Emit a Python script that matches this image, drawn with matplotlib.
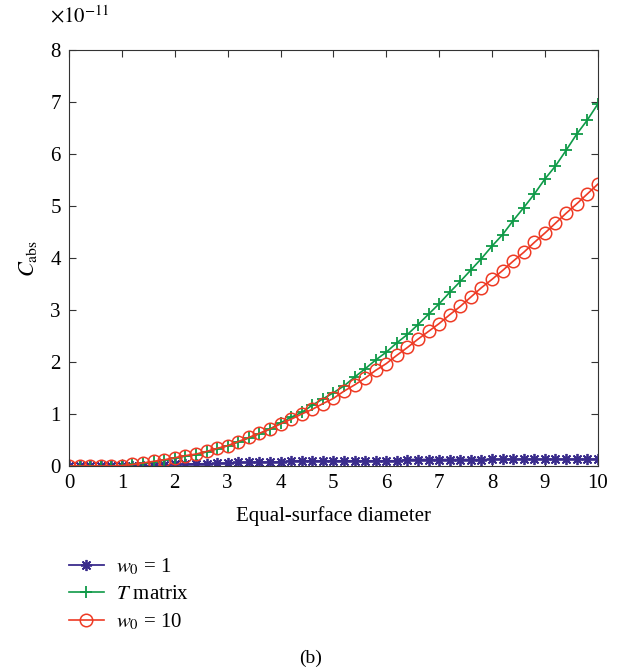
import numpy as np
import matplotlib
matplotlib.use("Agg")
import matplotlib.pyplot as plt

plt.rcParams['font.family'] = ['Liberation Serif', 'DejaVu Serif']
plt.rcParams['mathtext.fontset'] = 'stix'

# equal-surface diameter, 0..10 step 0.2
diameter = np.round(np.arange(0, 10.01, 0.2), 1)

# C_abs in units of 1e-11
w0_1 = [0, 0, 0, 0, 0, 0, 0, 0.005, 0.01, 0.02, 0.03, 0.035, 0.04, 0.045, 0.05, 0.055,
        0.07, 0.07, 0.075, 0.075, 0.08, 0.1, 0.1, 0.1, 0.1, 0.1, 0.1, 0.1, 0.1, 0.1, 0.1, 0.1,
        0.125, 0.125, 0.125, 0.125, 0.125, 0.125, 0.125, 0.125, 0.13, 0.13, 0.13, 0.13, 0.13,
        0.13, 0.13, 0.13, 0.13, 0.13, 0.13]
t_matrix = [0, 0, 0, 0, 0.005, 0.01, 0.03, 0.05, 0.08, 0.11, 0.15, 0.19, 0.22, 0.27, 0.33,
            0.39, 0.46, 0.54, 0.62, 0.71, 0.83, 0.94, 1.03, 1.17, 1.29, 1.41, 1.54, 1.71, 1.87,
            2.04, 2.19, 2.37, 2.53, 2.72, 2.92, 3.12, 3.34, 3.55, 3.77, 3.99, 4.23, 4.45, 4.72,
            4.97, 5.23, 5.52, 5.77, 6.07, 6.38, 6.65, 6.96]
w0_10 = [0, 0, 0, 0, 0, 0.01, 0.03, 0.06, 0.09, 0.12, 0.16, 0.20, 0.23, 0.28, 0.34, 0.39,
         0.47, 0.55, 0.63, 0.71, 0.81, 0.90, 1.0, 1.09, 1.20, 1.30, 1.44, 1.56, 1.69, 1.84,
         1.97, 2.13, 2.28, 2.44, 2.59, 2.74, 2.91, 3.07, 3.25, 3.43, 3.59, 3.76, 3.94, 4.11,
         4.30, 4.48, 4.67, 4.86, 5.04, 5.23, 5.42]

fig = plt.figure(figsize=(6.22, 6.72), dpi=100)
ax = fig.add_axes([0.111, 0.3065, 0.85, 0.619])

ax.plot(diameter, w0_1, color='#3a2c8c', marker=(8, 2, 0), markersize=8, mew=1.3, lw=1.3,
        label='$w_0$ = 1')
ax.plot(diameter, t_matrix, color='#0f9a48', marker='+', markersize=9, mew=1.3, lw=1.2,
        label='$T$ matrix')
ax.plot(diameter, w0_10, color='#ee3a24', marker='o', markersize=9, mfc='none', mew=1.1, lw=1.2,
        label='$w_0$ = 10')

ax.set_xlim(0, 10)
ax.set_ylim(0, 8)
ax.set_xticks(range(0, 11))
ax.set_yticks(range(0, 9))
ax.tick_params(direction='in', top=True, right=True, length=5, labelsize=15, pad=6,
               color='#333333')
for s in ax.spines.values():
    s.set_color('#333333')
ax.set_xlabel('Equal-surface diameter', fontsize=15, labelpad=9)
ax.set_ylabel('$C_{\\rm abs}$', fontsize=16, labelpad=8)
ax.text(0.02, 1.055, r'$\times10^{-11}$', transform=ax.transAxes, fontsize=15,
        ha='center', va='bottom')

fig.legend(loc='upper left', bbox_to_anchor=(0.08, 0.2), frameon=False, fontsize=15,
           handlelength=1.7, handletextpad=0.6, labelspacing=0.35)
fig.text(0.5, 0.008, '(b)', fontsize=14, ha='center', va='bottom')

fig.savefig('out.png', dpi=100)
